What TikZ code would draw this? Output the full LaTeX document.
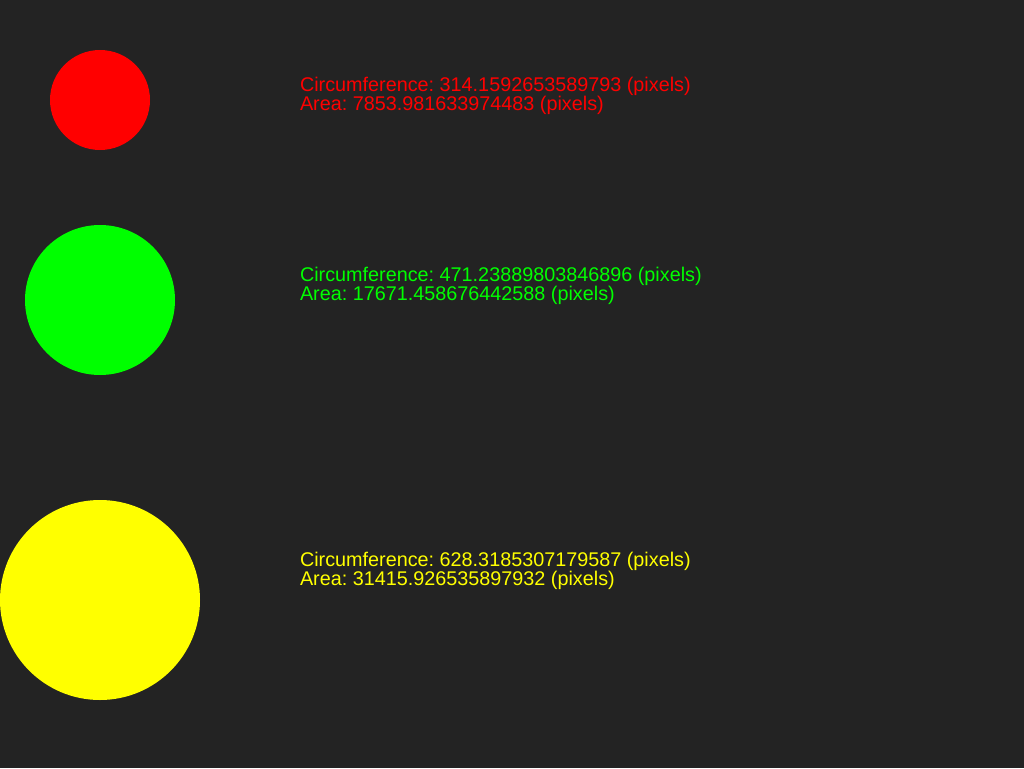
\documentclass[tikz,border=0pt]{standalone}
\usepackage{fontspec}
\setmainfont{Liberation Sans}
\frenchspacing
\definecolor{bg}{RGB}{35,35,35}
\definecolor{cred}{RGB}{255,0,0}
\definecolor{cgreen}{RGB}{0,255,0}
\definecolor{cyellow}{RGB}{255,255,0}
\tikzset{
  lbl/.style={anchor=base west, inner sep=0pt, outer sep=0pt, font=\fontsize{19.8}{20}\selectfont\frenchspacing},
  disc/.style={circle, inner sep=0pt, outer sep=0pt, draw=none}
}
\begin{document}
\begin{tikzpicture}[x=1pt,y=-1pt]
\fill[bg] (0,0) rectangle (1024,768);
\useasboundingbox (0,0) rectangle (1024,768);
\node[disc, fill=cred, minimum size=100pt] (c1) at (100,100) {};
\node[disc, fill=cgreen, minimum size=150pt] (c2) at (100,300) {};
\node[disc, fill=cyellow, minimum size=200pt] (c3) at (100,600) {};
\node[lbl, text=cred] (t1a) at (300,91.7) {Circumference: 314.1592653589793 (pixels)};
\node[lbl, text=cred] (t1b) at (300,110.7) {Area: 7853.981633974483 (pixels)};
\node[lbl, text=cgreen] (t2a) at (300,281.7) {Circumference: 471.23889803846896 (pixels)};
\node[lbl, text=cgreen] (t2b) at (300,300.7) {Area: 17671.458676442588 (pixels)};
\node[lbl, text=cyellow] (t3a) at (300,566.7) {Circumference: 628.3185307179587 (pixels)};
\node[lbl, text=cyellow] (t3b) at (300,585.7) {Area: 31415.926535897932 (pixels)};
\end{tikzpicture}
\end{document}
